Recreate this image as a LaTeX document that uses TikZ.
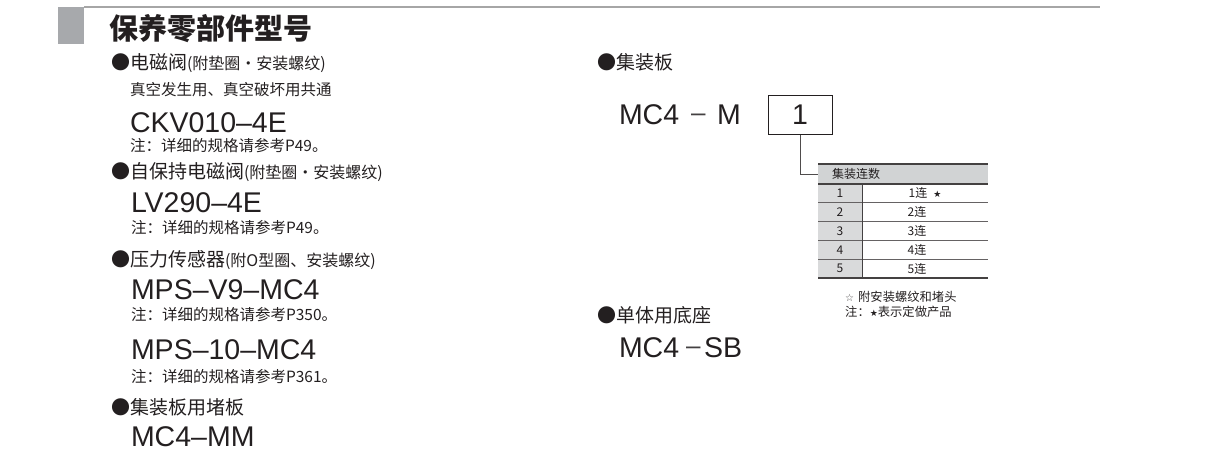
\documentclass[tikz,border=0pt]{standalone}
\usepackage{fontspec}
\setmainfont{Liberation Sans}
\newfontfamily\cjk{Noto Sans CJK SC}
\newfontfamily\djv{DejaVu Sans}
\definecolor{ink}{HTML}{231F20}
\definecolor{blockgray}{HTML}{A7A9AC}
\definecolor{rulegray}{HTML}{A6A6A6}
\definecolor{hdrgray}{HTML}{D1D3D4}
\definecolor{colgray}{HTML}{D9DADB}
\begin{document}
\begin{tikzpicture}[x=1pt,y=-1pt,
  txt/.style={anchor=west,inner sep=0pt,outer sep=0pt,text=ink},
  model/.style={txt,font=\fontsize{28.5}{30}\selectfont},
  dashmark/.style={anchor=base west,inner sep=0pt,outer sep=0pt,text=ink!85,font=\fontsize{26}{28}\selectfont},
  note/.style={txt,font=\cjk\fontsize{15.5}{17}\selectfont},
  head/.style={txt,font=\cjk\fontsize{19}{21}\selectfont},
  tab/.style={inner sep=0pt,text=ink,font=\cjk\fontsize{12}{13}\selectfont},
  foot/.style={inner sep=0pt,text=ink,anchor=west,font=\cjk\fontsize{12.3}{13}\selectfont},
  thick rule/.style={draw=ink!85,line width=1.8pt},
  thin rule/.style={draw=ink!70,line width=0.8pt}]
\useasboundingbox (0,0) rectangle (1218,461);
% header band
\fill[blockgray] (58,7) rectangle (84,44);
\draw[rulegray,line width=1.5pt] (84,7) -- (1100,7);
\node[txt,font=\cjk\bfseries\fontsize{29}{31}\selectfont] (title) at (109,29) {保养零部件型号};
% left column
\node[head] (h1) at (111,63) {●电磁阀{\fontsize{16}{17}\selectfont(附垫圈・安装螺纹)}};
\node[note] (s1) at (130,90) {真空发生用、真空破坏用共通};
\node[model] (m1) at (130,123) {CKV010–4E};
\node[note] (n1) at (130,146) {注：详细的规格请参考P49。};
\node[head] (h2) at (111,172) {●自保持电磁阀{\fontsize{16}{17}\selectfont(附垫圈・安装螺纹)}};
\node[model] (m2) at (131,203) {LV290–4E};
\node[note] (n2) at (131,228) {注：详细的规格请参考P49。};
\node[head] (h3) at (111,260) {●压力传感器{\fontsize{16}{17}\selectfont(附O型圈、安装螺纹)}};
\node[model] (m3) at (131,290) {MPS–V9–MC4};
\node[note] (n3) at (131,315) {注：详细的规格请参考P350。};
\node[model] (m4) at (131,350) {MPS–10–MC4};
\node[note] (n4) at (131,377) {注：详细的规格请参考P361。};
\node[head] (h4) at (111,407) {●集装板用堵板};
\node[model] (m5) at (131,437) {MC4–MM};
% right column
\node[head] (h5) at (597,62) {●集装板};
\node[model] (mc4a) at (619,115) {MC4};
\node[dashmark] (da) at (691,121.3) {–};
\node[model] (ma) at (717,115) {M};
\node[draw=ink,line width=1pt,minimum width=64pt,minimum height=39pt,inner sep=0pt,
      font=\fontsize{28.5}{30}\selectfont,text=ink] (b1) at (800,114.5) {1};
% table
\node[fill=hdrgray,minimum width=170pt,minimum height=20pt,inner sep=0pt] (hdr) at (903,174) {};
\fill[colgray] (818,184) rectangle (862,278);
\draw[thick rule] (818,164) -- (988,164);
\draw[thick rule] (818,184) -- (988,184);
\foreach \yy in {202.8,221.6,240.4,259.2}{\draw[thin rule] (818,\yy) -- (988,\yy);}
\draw[thick rule] (818,278) -- (988,278);
\draw[ink!85,line width=1pt] (862,184) -- (862,278);
\node[tab,anchor=west] (th) at (832,173.5) {集装连数};
\node[tab] (r1a) at (840,193.4) {1};
\node[tab] (r1b) at (925,193.4) {1连\hspace{6pt}{\djv\fontsize{9}{10}\selectfont ★}};
\node[tab] (r2a) at (840,212.2) {2};
\node[tab] (r2b) at (917,212.2) {2连};
\node[tab] (r3a) at (840,231) {3};
\node[tab] (r3b) at (917,231) {3连};
\node[tab] (r4a) at (840,249.8) {4};
\node[tab] (r4b) at (917,249.8) {4连};
\node[tab] (r5a) at (840,268.6) {5};
\node[tab] (r5b) at (917,268.6) {5连};
\draw[ink!80,line width=1pt] (b1.south) |- (hdr.west);
\node[foot] (fn1) at (845,297) {{\djv\fontsize{10}{11}\selectfont\color{ink!80}☆}\hspace{4pt}附安装螺纹和堵头};
\node[foot] (fn2) at (845,312) {注：{\djv\fontsize{9}{10}\selectfont ★}表示定做产品};
\node[head] (h6) at (597,315) {●单体用底座};
\node[model] (mc4b) at (619,348) {MC4};
\node[dashmark] (db) at (686,354.3) {–};
\node[model] (sb) at (704,348) {SB};
\end{tikzpicture}
\end{document}
